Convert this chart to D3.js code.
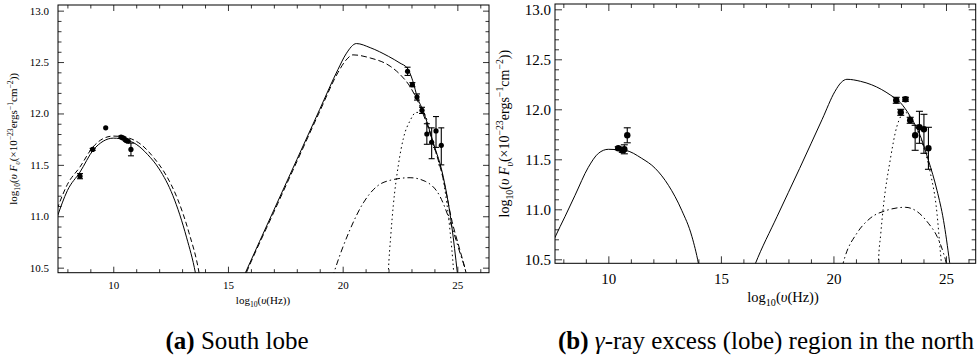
<!DOCTYPE html>
<html>
<head>
<meta charset="utf-8">
<script src="https://cdn.jsdelivr.net/npm/d3@7"></script>
<style>
  body { margin: 0; background: #fff; }
  svg { display: block; }
  svg text { font-family: "Liberation Serif", "Times New Roman", serif !important; fill: #000; }
</style>
</head>
<body>
<svg id="chart" width="979" height="360"></svg>
<script>
// ---- data (log10 nu, log10 nuFnu) ----
const xTicks = [10, 15, 20, 25];
const yTicks = [10.5, 11.0, 11.5, 12.0, 12.5, 13.0];

// (a) south lobe
const southRadioNu = [8.55, 9.10, 9.67, 10.34, 10.44, 10.55, 10.63, 10.77];
const southRadioFlux = [11.39, 11.65, 11.86, 11.77, 11.76, 11.74, 11.73, 11.65];
const southRadioErr = [0.025, 0.01, 0.0, 0.01, 0.01, 0.01, 0.01, 0.062];
const southGammaNu = [22.83, 23.04, 23.24, 23.46, 23.67, 23.88, 24.07, 24.30];
const southGammaFlux = [12.41, 12.28, 12.16, 12.03, 11.80, 11.72, 11.83, 11.69];
const southGammaErrUp = [0.04, 0.02, 0.03, 0.03, 0.10, 0.14, 0.14, 0.17];
const southGammaErrDn = [0.04, 0.02, 0.03, 0.03, 0.10, 0.16, 0.16, 0.19];

const southSyncSolid = [[7.55, 10.99], [8.0, 11.25], [8.55, 11.43], [9.13, 11.645], [9.56, 11.73],
  [10.0, 11.76], [10.6, 11.74], [11.0, 11.70], [11.5, 11.60], [12.0, 11.46], [12.6, 11.20],
  [13.2, 10.79], [13.58, 10.45], [13.7, 10.3]];
const southSyncDash = [[7.55, 11.07], [8.0, 11.31], [8.55, 11.48], [9.1, 11.67], [9.6, 11.76],
  [10.0, 11.78], [10.6, 11.765], [11.2, 11.70], [11.8, 11.56], [12.3, 11.40], [12.8, 11.17],
  [13.3, 10.84], [13.74, 10.45], [13.85, 10.3]];
const southIcSolid = [[15.6, 10.37], [15.76, 10.45], [17.0, 11.06], [18.0, 11.55], [19.0, 12.04],
  [19.8, 12.43], [20.15, 12.58], [20.6, 12.68], [21.2, 12.64], [22.0, 12.555], [22.5, 12.49],
  [22.82, 12.44], [23.08, 12.30], [23.25, 12.16], [23.5, 12.03], [23.96, 11.71], [24.39, 11.38],
  [24.76, 10.90], [25.0, 10.45], [25.05, 10.35]];
const southIcDash = [[15.65, 10.37], [15.8, 10.45], [17.0, 11.04], [18.0, 11.53], [19.0, 12.02],
  [19.8, 12.40], [20.15, 12.52], [20.45, 12.57], [21.2, 12.54], [22.07, 12.46], [22.5, 12.38],
  [22.94, 12.26], [23.5, 12.0], [24.0, 11.67], [24.4, 11.35], [24.77, 10.95], [25.1, 10.68],
  [25.38, 10.45], [25.45, 10.38]];
const southIcDashDot = [[19.55, 10.40], [19.62, 10.45], [20.32, 10.87], [20.9, 11.13], [21.49, 11.29],
  [22.07, 11.35], [22.94, 11.375], [23.6, 11.34], [24.25, 11.19], [24.68, 10.95], [25.12, 10.64],
  [25.38, 10.45], [25.45, 10.38]];
const southIcDot = [[21.97, 10.35], [21.99, 10.45], [22.1, 10.82], [22.21, 11.11], [22.43, 11.50],
  [22.65, 11.76], [22.94, 11.93], [23.2, 12.01], [23.5, 12.01], [23.96, 11.69], [24.39, 11.35],
  [24.68, 10.86], [24.84, 10.45], [24.86, 10.38]];

// (b) gamma-ray excess region in the north
const northRadioNu = [10.44, 10.62, 10.71, 10.84];
const northRadioFlux = [11.61, 11.59, 11.60, 11.74];
const northRadioErr = [0.015, 0.02, 0.045, 0.075];
const northGammaNu = [22.79, 22.99, 23.20, 23.41, 23.63, 23.82, 24.02, 24.22];
const northGammaFlux = [12.09, 11.97, 12.10, 11.89, 11.74, 11.82, 11.80, 11.61];
const northGammaErrUp = [0.03, 0.03, 0.02, 0.03, 0.10, 0.16, 0.15, 0.21];
const northGammaErrDn = [0.03, 0.03, 0.02, 0.03, 0.15, 0.16, 0.24, 0.21];

const northSyncSolid = [[7.55, 10.68], [7.63, 10.72], [8.08, 10.93], [8.52, 11.14], [9.11, 11.42],
  [9.56, 11.56], [10.0, 11.60], [10.74, 11.59], [11.48, 11.51], [12.08, 11.41], [12.67, 11.24],
  [13.26, 10.99], [13.71, 10.73], [14.0, 10.46], [14.05, 10.4]];
const northIcSolid = [[16.45, 10.41], [16.52, 10.45], [17.5, 10.93], [18.5, 11.41], [19.5, 11.90],
  [20.07, 12.18], [20.35, 12.27], [20.6, 12.30], [21.2, 12.28], [21.7, 12.245], [22.55, 12.14],
  [22.96, 12.07], [23.41, 11.93], [23.85, 11.74], [24.22, 11.49], [24.6, 11.19], [24.89, 10.89],
  [25.16, 10.47], [25.2, 10.4]];
const northIcDot = [[21.99, 10.40], [22.0, 10.47], [22.1, 10.75], [22.22, 11.03], [22.52, 11.49],
  [22.82, 11.83], [23.19, 11.97], [23.5, 11.88], [23.9, 11.69], [24.3, 11.37], [24.6, 10.96],
  [24.74, 10.6], [24.8, 10.45], [24.82, 10.4]];
const northIcDashDot = [[20.38, 10.42], [20.52, 10.53], [21.04, 10.76], [21.63, 10.91], [22.37, 10.99],
  [23.19, 11.02], [23.7, 10.98], [24.22, 10.86], [24.6, 10.73], [24.89, 10.56], [25.0, 10.47],
  [25.05, 10.4]];

const svg = d3.select("#chart");
const SERIF = "Liberation Serif";

function yLabel(sel, size) {
  const t = sel.append("text")
    .attr("text-anchor", "middle")
    .attr("font-family", SERIF)
    .attr("font-size", size);
  const sub = size * 0.7;
  t.append("tspan").text("log");
  t.append("tspan").attr("font-size", sub).attr("dy", size * 0.3).text("10");
  t.append("tspan").attr("dy", -size * 0.3).text("(");
  t.append("tspan").attr("font-style", "italic").text("\u03C5 F");
  t.append("tspan").attr("font-size", sub).attr("font-style", "italic").attr("dy", size * 0.3).text("\u03C5");
  t.append("tspan").attr("dy", -size * 0.3).text("(\u00D710");
  t.append("tspan").attr("font-size", sub).attr("dy", -size * 0.4).text("\u221223");
  t.append("tspan").attr("dy", size * 0.4).text("ergs");
  t.append("tspan").attr("font-size", sub).attr("dy", -size * 0.4).text("\u22121");
  t.append("tspan").attr("dy", size * 0.4).text("cm");
  t.append("tspan").attr("font-size", sub).attr("dy", -size * 0.4).text("\u22122");
  t.append("tspan").attr("dy", size * 0.4).text("))");
  return t;
}

function xLabel(sel, size) {
  const t = sel.append("text")
    .attr("text-anchor", "middle")
    .attr("font-family", SERIF)
    .attr("font-size", size);
  t.append("tspan").text("log");
  t.append("tspan").attr("font-size", size * 0.7).attr("dy", size * 0.3).text("10");
  t.append("tspan").attr("dy", -size * 0.3).text("(");
  t.append("tspan").attr("font-style", "italic").text("\u03C5");
  t.append("tspan").text("(Hz))");
  return t;
}

function drawPanel(p) {
  const x = d3.scaleLinear().domain(p.xDomain).range([p.left, p.right]);
  const y = d3.scaleLinear().domain(p.yDomain).range([p.bottom, p.top]);
  const g = svg.append("g");
  const w = p.right - p.left, h = p.bottom - p.top;

  g.append("clipPath").attr("id", p.id + "-clip")
    .append("rect").attr("x", p.left).attr("y", p.top).attr("width", w).attr("height", h);

  const xMinor = d3.range(8, 27, 1).filter(v => !xTicks.includes(v));
  const yMinor = d3.range(105, 131, 1).filter(v => v % 5 !== 0).map(v => v / 10);

  // ticks on all four sides, pointing inward
  const axes = [
    [d3.axisBottom(x), `translate(0,${p.bottom})`, true],
    [d3.axisTop(x), `translate(0,${p.top})`, false],
  ];
  axes.forEach(([ax, tr, lab]) => {
    g.append("g").attr("transform", tr)
      .call(ax.tickValues(xTicks).tickSize(-p.major).tickPadding(p.xPad)
        .tickFormat(lab ? d3.format("d") : ""))
      .call(s => s.select(".domain").remove());
    g.append("g").attr("transform", tr)
      .call(ax.tickValues(xMinor).tickSize(-p.minor).tickFormat(""))
      .call(s => s.select(".domain").remove());
  });
  const yAxes = [
    [d3.axisLeft(y), `translate(${p.left},0)`, true],
    [d3.axisRight(y), `translate(${p.right},0)`, false],
  ];
  yAxes.forEach(([ax, tr, lab]) => {
    g.append("g").attr("transform", tr)
      .call(ax.tickValues(yTicks).tickSize(-p.major).tickPadding(p.yPad)
        .tickFormat(lab ? d3.format(".1f") : ""))
      .call(s => s.select(".domain").remove());
    g.append("g").attr("transform", tr)
      .call(ax.tickValues(yMinor).tickSize(-p.minor).tickFormat(""))
      .call(s => s.select(".domain").remove());
  });
  g.selectAll("g").attr("font-family", SERIF);
  g.selectAll(".tick line").attr("stroke", "#000").attr("stroke-width", 0.8);
  g.selectAll(".tick text").attr("font-size", p.tickFont).attr("font-family", SERIF)
    .style("font-family", SERIF).attr("fill", "#000");

  g.append("rect")
    .attr("x", p.left).attr("y", p.top).attr("width", w).attr("height", h)
    .attr("fill", "none").attr("stroke", "#000").attr("stroke-width", 1);

  // model curves
  const line = d3.line().x(d => x(d[0])).y(d => y(d[1])).curve(d3.curveMonotoneX);
  const curves = g.append("g").attr("clip-path", `url(#${p.id}-clip)`);
  p.curves.forEach(c => {
    curves.append("path")
      .attr("d", line(c.data))
      .attr("fill", "none")
      .attr("stroke", "#000")
      .attr("stroke-width", 1)
      .attr("stroke-dasharray", c.dash || null);
  });

  // data points with error bars
  const pts = g.append("g");
  p.points.forEach(s => {
    s.nu.forEach((nu, i) => {
      const cx = x(nu), cy = y(s.flux[i]);
      const up = s.up[i], dn = s.dn[i];
      if (up + dn > 0) {
        const y1 = y(s.flux[i] + up), y2 = y(s.flux[i] - dn);
        pts.append("line").attr("x1", cx).attr("x2", cx).attr("y1", y1).attr("y2", y2)
          .attr("stroke", "#000").attr("stroke-width", 1.1);
        [y1, y2].forEach(yy => pts.append("line")
          .attr("x1", cx - p.cap).attr("x2", cx + p.cap).attr("y1", yy).attr("y2", yy)
          .attr("stroke", "#000").attr("stroke-width", 1.1));
      }
      pts.append("circle").attr("cx", cx).attr("cy", cy).attr("r", p.r).attr("fill", "#000");
    });
  });

  yLabel(g, p.yLabelFont)
    .attr("transform", `translate(${p.yLabelX},${(p.top + p.bottom) / 2}) rotate(-90)`);
  xLabel(g, p.xLabelFont).attr("x", p.xLabelX).attr("y", p.xLabelY);
}

drawPanel({
  id: "south", left: 58, right: 489, top: 5, bottom: 272.7,
  xDomain: [7.59, 26.38], yDomain: [10.451, 13.055],
  major: 6, minor: 3.5, xPad: 9, yPad: 9, tickFont: 11,
  r: 2.6, cap: 3,
  yLabelX: 17, yLabelFont: 11,
  xLabelX: 263, xLabelY: 304, xLabelFont: 11,
  curves: [
    { data: southSyncSolid },
    { data: southSyncDash, dash: "5,3" },
    { data: southIcSolid },
    { data: southIcDash, dash: "6,3" },
    { data: southIcDashDot, dash: "6,3,1.5,3" },
    { data: southIcDot, dash: "1.5,3" }
  ],
  points: [
    { nu: southRadioNu, flux: southRadioFlux, up: southRadioErr, dn: southRadioErr },
    { nu: southGammaNu, flux: southGammaFlux, up: southGammaErrUp, dn: southGammaErrDn }
  ]
});

drawPanel({
  id: "north", left: 555, right: 975.7, top: 4, bottom: 263.3,
  xDomain: [7.63, 26.32], yDomain: [10.46, 13.053],
  major: 7, minor: 4, xPad: 10, yPad: 4, tickFont: 15,
  r: 3.2, cap: 3.5,
  yLabelX: 509, yLabelFont: 14,
  xLabelX: 783, xLabelY: 302, xLabelFont: 14.5,
  curves: [
    { data: northSyncSolid },
    { data: northIcSolid },
    { data: northIcDashDot, dash: "6,3,1.5,3" },
    { data: northIcDot, dash: "1.5,3" }
  ],
  points: [
    { nu: northRadioNu, flux: northRadioFlux, up: northRadioErr, dn: northRadioErr },
    { nu: northGammaNu, flux: northGammaFlux, up: northGammaErrUp, dn: northGammaErrDn }
  ]
});

// captions
const capA = svg.append("text").attr("x", 237).attr("y", 349)
  .attr("text-anchor", "middle").attr("font-family", SERIF).attr("font-size", 25);
capA.append("tspan").attr("font-weight", "bold").text("(a)");
capA.append("tspan").text(" South lobe");

const capB = svg.append("text").attr("x", 766).attr("y", 349)
  .attr("text-anchor", "middle").attr("font-family", SERIF).attr("font-size", 25);
capB.append("tspan").attr("font-weight", "bold").text("(b)");
capB.append("tspan").text(" ");
capB.append("tspan").attr("font-style", "italic").text("\u03B3");
capB.append("tspan").text("-ray excess (lobe) region in the north");
</script>
</body>
</html>
